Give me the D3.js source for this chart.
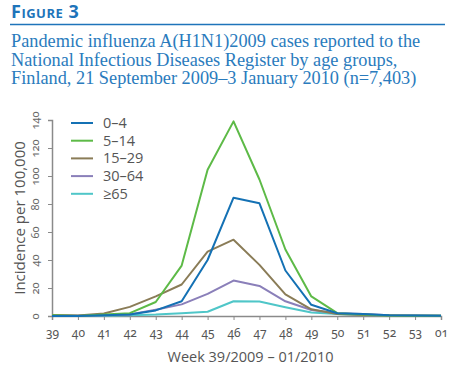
<!DOCTYPE html>
<meta charset="utf-8">
<script src="https://d3js.org/d3.v7.min.js"></script>
<style>
  body { margin: 0; background: #fff; }
  text { font-family: "Open Sans", "Noto Sans", sans-serif; }
</style>
<div id="chart"></div>
<script>
  // weeks 39/2009 - 01/2010
  var weeks = ["39", "40", "41", "42", "43", "44", "45", "46", "47", "48", "49", "50", "51", "52", "53", "01"];
  var groups = ["0\u20134", "5\u201314", "15\u201329", "30\u201364", "\u226565"];
  var age0_4   = [0, 0, 0.5, 1, 4, 10.5, 40, 84.5, 80.5, 32.5, 8, 2, 1.5, 0.5, 0.3, 0.2];
  var age5_14  = [0.5, 0, 1, 2, 10, 36, 104.5, 139, 97.5, 47.5, 14, 2, 1, 0.3, 0.2, 0.2];
  var age15_29 = [0.8, 0.3, 1.8, 6.5, 14, 22.5, 46, 54.5, 36.5, 15.5, 4.8, 1.5, 0.8, 0.3, 0.2, 0.2];
  var age30_64 = [0.3, 0.2, 0.5, 1, 4.5, 8.3, 15.8, 25.3, 21.5, 10.5, 4.3, 2, 1.5, 0.5, 0.3, 0.2];
  var age65    = [0.1, 0.1, 0.2, 0.5, 1, 2, 3, 10.5, 10.3, 6.2, 2.5, 1.5, 0.8, 0.3, 0.2, 0.2];
  var yTicks = [0, 20, 40, 60, 80, 100, 120, 140];

  var series = [age0_4, age5_14, age15_29, age30_64, age65];
  var colors = ["#1471b4", "#5dba47", "#8a7c57", "#8a7fb9", "#4fc6c8"];

  var W = 459, H = 370;
  var margin = { top: 120, right: 18, bottom: 54, left: 52 },
    width = W - margin.left - margin.right,
    height = H - margin.top - margin.bottom;

  var root = d3.select("#chart").append("svg")
    .attr("width", W).attr("height", H);

  // header
  root.append("text")
    .attr("x", 11).attr("y", 18)
    .style("font-family", "'Open Sans', sans-serif")
    .style("font-weight", "bold")
    .style("font-variant", "small-caps")
    .style("font-size", "18px")
    .style("letter-spacing", "0.5px")
    .attr("fill", "#1e74ba")
    .text("Figure 3");
  root.append("line")
    .attr("x1", 10).attr("x2", 445)
    .attr("y1", 24.5).attr("y2", 24.5)
    .attr("stroke", "#1e74ba").attr("stroke-width", 1.5);

  var subtitle = [
    "Pandemic influenza A(H1N1)2009 cases reported to the",
    "National Infectious Diseases Register by age groups,",
    "Finland, 21 September 2009\u20133 January 2010 (n=7,403)"
  ];
  root.selectAll(".sub").data(subtitle).enter().append("text")
    .attr("class", "sub")
    .attr("x", 11)
    .attr("y", function (d, i) { return 47 + i * 18.5; })
    .style("font-family", "'Liberation Serif', 'DejaVu Serif', serif")
    .style("font-size", "18.3px")
    .attr("fill", "#2a7bbd")
    .text(function (d) { return d; });

  var svg = root.append("g")
    .attr("transform", "translate(" + margin.left + "," + margin.top + ")");

  var x = d3.scalePoint().domain(weeks).range([0, width]);
  var y = d3.scaleLinear().domain([0, 140]).range([height, 0]);

  // y axis
  var yAxis = svg.append("g")
    .call(d3.axisLeft(y).tickValues(yTicks).tickSize(4).tickPadding(6));
  yAxis.select(".domain").attr("stroke", "#8a8a8a").attr("stroke-width", 1.5);
  yAxis.selectAll(".tick line").attr("stroke", "#8a8a8a");
  yAxis.selectAll(".tick text")
    .attr("x", 0).attr("dy", 0)
    .attr("transform", "translate(-13,0) rotate(-90)")
    .style("text-anchor", "middle")
    .style("font-family", "'Noto Sans', sans-serif")
    .style("font-size", "11px")
    .style("font-variant-numeric", "oldstyle-nums")
    .attr("fill", "#666");

  // x axis
  var xAxis = svg.append("g")
    .attr("transform", "translate(0," + height + ")")
    .call(d3.axisBottom(x).tickSize(4).tickPadding(8));
  xAxis.select(".domain").attr("stroke", "#8a8a8a").attr("stroke-width", 1.5);
  xAxis.selectAll(".tick line").attr("stroke", "#8a8a8a");
  xAxis.selectAll(".tick text")
    .style("font-family", "'Noto Sans', sans-serif")
    .style("font-size", "12px")
    .style("font-variant-numeric", "oldstyle-nums")
    .attr("fill", "#555");

  // lines
  var line = d3.line()
    .x(function (d, i) { return x(weeks[i]); })
    .y(function (d) { return y(d); });

  // draw in reverse so 0-4 sits on top
  series.slice().reverse().forEach(function (s, k) {
    var i = series.length - 1 - k;
    svg.append("path")
      .datum(s)
      .attr("fill", "none")
      .attr("stroke", colors[i])
      .attr("stroke-width", 2)
      .attr("stroke-linejoin", "round")
      .attr("d", line);
  });

  // legend
  var legend = svg.selectAll(".legend").data(groups).enter().append("g")
    .attr("class", "legend")
    .attr("transform", function (d, i) { return "translate(19," + (3 + i * 17.7) + ")"; });
  legend.append("line")
    .attr("x1", 0).attr("x2", 22)
    .attr("stroke", function (d, i) { return colors[i]; })
    .attr("stroke-width", 2);
  legend.append("text")
    .attr("x", 32).attr("dy", "0.35em")
    .style("font-size", "14.5px")
    .attr("fill", "#555")
    .text(function (d) { return d; });

  // axis titles
  root.append("text")
    .attr("x", margin.left + width / 2 + 4).attr("y", 362)
    .style("text-anchor", "middle")
    .style("font-size", "14.5px")
    .attr("fill", "#555")
    .text("Week 39/2009 \u2013 01/2010");
  root.append("text")
    .attr("transform", "translate(25," + (margin.top + height / 2) + ") rotate(-90)")
    .style("text-anchor", "middle")
    .style("font-size", "15px")
    .attr("fill", "#555")
    .text("Incidence per 100,000");
</script>
